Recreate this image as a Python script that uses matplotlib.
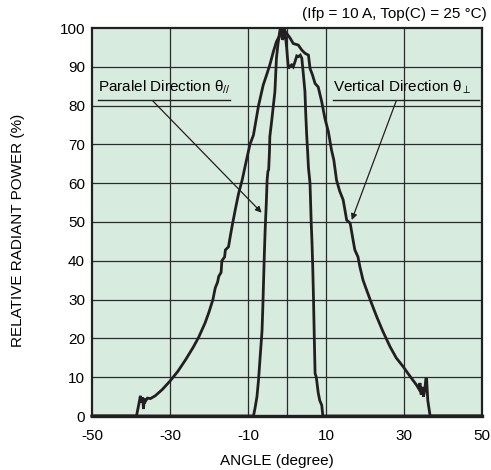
import matplotlib
matplotlib.use("Agg")
import matplotlib.pyplot as plt

plt.rcParams['font.family'] = ['Liberation Sans', 'DejaVu Sans']
plt.rcParams['mathtext.fontset'] = 'custom'
plt.rcParams['mathtext.rm'] = 'Liberation Sans'
plt.rcParams['mathtext.it'] = 'Liberation Sans'
plt.rcParams['axes.unicode_minus'] = False

# Vertical direction (wide) profile
vert_angle = [-50, -38.6, -38.0, -37.6, -37.3, -37.0, -36.8, -36.6, -36.3, -35.8, -35.0, -33.8,
              -32.0, -30.0, -28.0, -26.0, -24.0, -22.6, -21.0, -20.0, -19.0, -18.4, -17.8, -17.5,
              -16.9, -16.7, -16.0, -15.8, -15.0, -14.6, -14.1, -13.3, -12.4, -11.5, -10.6, -9.5,
              -8.6, -7.3, -6.1, -5.2, -4.4, -3.5, -2.7, -1.8, -1.0, -0.8, 0.0, 0.8, 1.6, 2.9,
              3.8, 4.6, 5.5, 5.9, 6.5, 7.2, 8.0, 8.9, 9.7, 10.6, 11.4, 12.0, 12.7, 13.5, 14.4,
              15.3, 16.2, 17.0, 17.4, 18.2, 18.7, 19.5, 20.4, 21.5, 23.0, 24.5, 26.4, 28.0,
              29.8, 31.5, 33.2, 33.8, 34.1, 34.4, 34.7, 35.0, 35.3, 35.6, 35.8, 36.1, 36.7, 50]
vert_power = [0, 0, 3, 5.2, 3.5, 4.8, 1.8, 4.5, 3.8, 4.6, 4.5, 5.2,
              6.8, 9.0, 11.5, 14.5, 17.8, 20.4, 24.0, 26.8, 30.0, 33.0, 34.5, 36.0,
              37.0, 40.0, 41.0, 42.8, 43.6, 46.0, 48.8, 53.0, 57.4, 60.8, 65.0, 70.0,
              72.4, 80.0, 85.3, 88.0, 90.5, 93.9, 96.5, 98.2, 99.0, 99.5, 98.5, 97.4, 96.0, 95.6,
              94.3, 93.5, 93.0, 89.6, 88.0, 85.7, 84.8, 81.0, 76.8, 73.3, 68.6, 66.0, 60.8, 58.0, 55.7,
              50.5, 49.7, 45.0, 42.8, 41.0, 38.4, 35.0, 32.5, 29.5, 25.6, 22.0, 17.9, 15.0,
              12.7, 10.3, 8.0, 7.0, 8.5, 5.5, 7.5, 5.0, 6.5, 9.5, 9.5, 4.0, 0, 0]

# Parallel direction (narrow) profile
para_angle = [-50, -8.6, -8.2, -7.7, -7.3, -6.9, -6.4, -6.2, -6.0, -5.8, -5.6, -5.3, -5.1, -4.9,
              -4.7, -4.5, -4.4, -3.9, -3.5, -3.1, -2.9, -2.7, -2.3, -1.8, -1.5, -1.2, -0.95,
              -0.7, -0.5, -0.1, 0.35, 0.8, 1.2, 1.6, 2.05, 2.5, 2.9, 3.4, 3.8, 4.2, 4.6, 4.8,
              5.05, 5.3, 5.5, 5.9, 6.2, 6.4, 6.6, 6.8, 7.0, 7.2, 7.5, 7.6, 8.0, 8.4, 8.9, 9.2, 50]
para_power = [0, 0, 2, 5, 9.3, 15, 22, 28, 35, 42, 48, 55, 60.8, 63,
              63.5, 68, 72, 76.3, 80, 83.6, 88, 92.3, 96, 99.5, 100, 97, 97.4,
              100, 99, 95, 89.6, 90.2, 90.5, 90, 91.3, 92.8, 92.6, 93, 92.2, 88, 83.6, 78,
              72.4, 68, 64, 60, 50, 45, 38.4, 30, 20, 11, 10, 9.3, 6, 4, 2.8, 0, 0]

xticks = [-50, -30, -10, 10, 30, 50]
yticks = [0, 10, 20, 30, 40, 50, 60, 70, 80, 90, 100]

fig = plt.figure(figsize=(4.91, 4.70), dpi=100)
ax = fig.add_axes([92/491, 1-416/470, 390/491, 388/470])
ax.set_facecolor('#d7ebdf')

ax.set_xlim(-50, 50)
ax.set_ylim(0, 100)
ax.set_xticks(xticks)
ax.set_yticks(yticks)
for v in [-30, -10, 0, 10, 30]:
    ax.axvline(v, color='#2a2a2a', lw=0.9, zorder=1)
for v in yticks[1:-1]:
    ax.axhline(v, color='#2a2a2a', lw=0.9, zorder=1)

line_color = '#231f20'
ax.plot(vert_angle, vert_power, color=line_color, lw=2.0, zorder=3, clip_on=False,
        solid_joinstyle='miter')
ax.plot(para_angle, para_power, color=line_color, lw=2.0, zorder=3, clip_on=False,
        solid_joinstyle='miter')

for s in ax.spines.values():
    s.set_color(line_color)
    s.set_linewidth(1.6)
ax.spines['bottom'].set_linewidth(2.4)

ax.tick_params(length=0, labelsize=11, colors='black')
ax.tick_params(axis='x', pad=9)
ax.tick_params(axis='y', pad=5)

fig.text(277/491, 1-461/470, 'ANGLE (degree)', ha='center', va='center', fontsize=11)
fig.text(18/491, 1-230/470, 'RELATIVE RADIANT POWER (%)', ha='center', va='center',
         rotation=90, fontsize=11)

fig.text(487/491, 1-14/470, '(Ifp = 10 A, Top(C) = 25 °C)', ha='right', va='center', fontsize=11)

# Annotations
ax.text(-48.5, 82.6, r'Paralel Direction θ$_{//}$', fontsize=11, ha='left', va='bottom', zorder=4)
ax.plot([-48.5, -14.7], [81.4, 81.4], color=line_color, lw=1.0, zorder=4)
ax.annotate('', xy=(-6.5, 52.4), xytext=(-34.4, 81.2),
            arrowprops=dict(arrowstyle='-|>', color=line_color, lw=0.9,
                            mutation_scale=9, shrinkA=0, shrinkB=0), zorder=4)

ax.text(11.8, 82.6, r'Vertical Direction θ$_{\perp}$', fontsize=11, ha='left', va='bottom', zorder=4)
ax.plot([11.8, 49.2], [81.4, 81.4], color=line_color, lw=1.0, zorder=4)
ax.annotate('', xy=(16.6, 50.5), xytext=(28.0, 81.2),
            arrowprops=dict(arrowstyle='-|>', color=line_color, lw=0.9,
                            mutation_scale=9, shrinkA=0, shrinkB=0), zorder=4)

fig.savefig('out.png', dpi=100)
